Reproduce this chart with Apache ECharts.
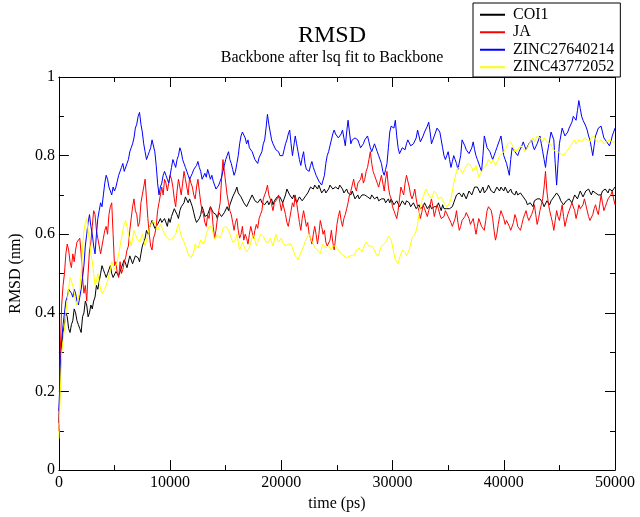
<!DOCTYPE html>
<html><head><meta charset="utf-8">
<script src="https://cdn.jsdelivr.net/npm/echarts/dist/echarts.min.js"></script>
<style>html,body{margin:0;padding:0;background:#fff}#c{width:640px;height:517px}</style>
</head><body><div id="c"></div>
<script>
const timeStart = 0;
const timeStep = 125;

const seriesNames = ['COI1', 'JA', 'ZINC27640214', 'ZINC43772052'];
const seriesColors = ['#000000', '#ff0000', '#0000ff', '#ffff00'];

const rmsdCOI1 = [
0.12,0.24,0.31,0.35,0.37,0.40,0.39,0.36,0.35,0.37,0.38,0.41,0.40,0.38,0.37,0.36,0.35,0.39,0.40,0.43,0.42,0.39,0.40,0.42,0.41,0.43,0.44,0.47,0.46,0.48,0.50,0.52,0.51,0.50,0.49,0.50,0.51,0.52,0.50,0.49,
0.49,0.505,0.51,0.495,0.50,0.515,0.52,0.535,0.53,0.515,0.52,0.545,0.54,0.525,0.53,0.545,0.55,0.54,0.53,0.55,0.57,0.58,0.59,0.61,0.60,0.615,0.62,0.635,0.63,0.615,0.61,0.625,0.62,0.64,0.63,0.625,0.64,0.635,0.62,0.64,
0.63,0.645,0.65,0.665,0.66,0.65,0.64,0.66,0.67,0.675,0.68,0.695,0.69,0.68,0.69,0.685,0.67,0.655,0.64,0.63,0.625,0.64,0.65,0.67,0.66,0.645,0.64,0.65,0.655,0.67,0.665,0.655,0.66,0.65,0.64,0.655,0.66,0.645,0.65,0.655,
0.66,0.67,0.66,0.675,0.68,0.695,0.70,0.71,0.72,0.705,0.70,0.695,0.69,0.68,0.68,0.67,0.675,0.685,0.69,0.70,0.70,0.685,0.69,0.68,0.685,0.69,0.68,0.685,0.675,0.68,0.685,0.675,0.68,0.69,0.675,0.685,0.685,0.695,0.69,0.695,
0.70,0.68,0.69,0.70,0.715,0.71,0.70,0.695,0.69,0.70,0.695,0.68,0.685,0.695,0.69,0.685,0.69,0.695,0.70,0.705,0.71,0.72,0.72,0.715,0.725,0.72,0.715,0.725,0.72,0.705,0.71,0.715,0.705,0.71,0.715,0.725,0.72,0.715,0.71,0.72,
0.72,0.715,0.725,0.72,0.715,0.705,0.71,0.715,0.705,0.70,0.70,0.71,0.70,0.69,0.695,0.70,0.69,0.685,0.70,0.695,0.70,0.705,0.695,0.69,0.69,0.70,0.695,0.69,0.685,0.695,0.685,0.68,0.69,0.695,0.69,0.68,0.685,0.69,0.68,0.69,
0.685,0.675,0.68,0.685,0.68,0.67,0.675,0.685,0.68,0.675,0.685,0.69,0.68,0.67,0.675,0.68,0.675,0.665,0.67,0.675,0.665,0.66,0.67,0.68,0.675,0.665,0.67,0.675,0.665,0.67,0.67,0.665,0.67,0.68,0.67,0.66,0.675,0.665,0.67,0.665,
0.67,0.665,0.66,0.67,0.68,0.69,0.70,0.695,0.705,0.70,0.695,0.705,0.70,0.69,0.70,0.71,0.705,0.70,0.71,0.72,0.725,0.72,0.715,0.705,0.71,0.72,0.705,0.71,0.715,0.725,0.72,0.71,0.715,0.705,0.71,0.72,0.715,0.71,0.72,0.715,
0.71,0.72,0.715,0.705,0.71,0.715,0.705,0.70,0.70,0.71,0.70,0.695,0.705,0.70,0.695,0.69,0.685,0.675,0.67,0.68,0.675,0.67,0.685,0.68,0.69,0.695,0.69,0.685,0.68,0.67,0.675,0.685,0.68,0.675,0.685,0.69,0.695,0.70,0.705,0.70,
0.695,0.685,0.69,0.675,0.68,0.685,0.68,0.69,0.685,0.68,0.69,0.70,0.695,0.69,0.70,0.71,0.705,0.695,0.70,0.71,0.705,0.715,0.71,0.70,0.71,0.715,0.705,0.71,0.70,0.695,0.70,0.71,0.705,0.715,0.71,0.705,0.715,0.72,0.71,0.715,
0.72];

const rmsdJA = [
0.10,0.30,0.42,0.47,0.50,0.55,0.575,0.56,0.53,0.515,0.55,0.53,0.56,0.58,0.575,0.59,0.55,0.49,0.45,0.47,0.43,0.50,0.56,0.58,0.62,0.66,0.65,0.61,0.59,0.57,0.55,0.57,0.59,0.61,0.62,0.60,0.65,0.67,0.68,0.60,
0.52,0.53,0.50,0.49,0.53,0.50,0.51,0.53,0.54,0.56,0.57,0.61,0.64,0.67,0.69,0.66,0.65,0.62,0.63,0.68,0.70,0.72,0.74,0.69,0.64,0.60,0.57,0.56,0.59,0.60,0.62,0.66,0.68,0.70,0.72,0.70,0.74,0.73,0.71,0.73,
0.75,0.74,0.72,0.69,0.67,0.71,0.74,0.72,0.70,0.73,0.76,0.74,0.72,0.70,0.745,0.73,0.72,0.70,0.69,0.72,0.74,0.71,0.68,0.66,0.65,0.63,0.62,0.65,0.64,0.67,0.66,0.62,0.59,0.61,0.64,0.66,0.68,0.74,0.79,0.76,
0.73,0.70,0.68,0.66,0.65,0.63,0.61,0.63,0.64,0.61,0.59,0.60,0.62,0.585,0.60,0.59,0.575,0.60,0.62,0.605,0.59,0.61,0.625,0.615,0.64,0.65,0.66,0.69,0.70,0.71,0.725,0.70,0.69,0.675,0.66,0.68,0.675,0.69,0.70,0.68,
0.66,0.68,0.675,0.65,0.63,0.62,0.64,0.66,0.68,0.67,0.70,0.68,0.655,0.63,0.61,0.64,0.66,0.64,0.62,0.63,0.60,0.59,0.575,0.60,0.62,0.60,0.575,0.60,0.635,0.62,0.60,0.61,0.58,0.57,0.565,0.585,0.61,0.58,0.56,0.59,
0.625,0.645,0.66,0.635,0.62,0.64,0.65,0.665,0.68,0.70,0.71,0.725,0.74,0.72,0.71,0.73,0.725,0.74,0.755,0.73,0.74,0.76,0.77,0.79,0.81,0.78,0.76,0.75,0.74,0.73,0.72,0.735,0.75,0.73,0.71,0.74,0.76,0.72,0.70,0.69,
0.67,0.66,0.65,0.64,0.66,0.69,0.72,0.71,0.70,0.73,0.75,0.735,0.72,0.70,0.69,0.70,0.715,0.69,0.67,0.66,0.64,0.655,0.675,0.665,0.66,0.645,0.66,0.675,0.69,0.67,0.645,0.66,0.675,0.665,0.65,0.64,0.635,0.645,0.66,0.655,
0.645,0.64,0.63,0.62,0.615,0.64,0.66,0.63,0.61,0.62,0.635,0.63,0.645,0.655,0.66,0.64,0.625,0.63,0.64,0.62,0.60,0.62,0.64,0.635,0.62,0.615,0.61,0.635,0.66,0.67,0.675,0.66,0.64,0.61,0.585,0.60,0.625,0.645,0.66,0.65,
0.64,0.625,0.635,0.63,0.62,0.61,0.605,0.63,0.65,0.64,0.62,0.615,0.61,0.625,0.64,0.65,0.66,0.645,0.635,0.64,0.65,0.66,0.675,0.65,0.625,0.64,0.66,0.675,0.69,0.72,0.76,0.71,0.68,0.66,0.645,0.63,0.61,0.635,0.66,0.645,
0.635,0.655,0.675,0.645,0.62,0.635,0.65,0.66,0.67,0.68,0.685,0.66,0.64,0.655,0.675,0.665,0.66,0.675,0.69,0.675,0.66,0.645,0.635,0.64,0.65,0.665,0.675,0.66,0.65,0.675,0.70,0.68,0.66,0.67,0.68,0.69,0.695,0.70,0.71,0.69,
0.675];

const rmsdZINC27640214 = [
0.15,0.26,0.33,0.37,0.40,0.43,0.44,0.46,0.46,0.45,0.44,0.46,0.45,0.43,0.42,0.44,0.46,0.49,0.52,0.57,0.60,0.63,0.65,0.62,0.60,0.57,0.55,0.60,0.64,0.66,0.68,0.67,0.70,0.73,0.75,0.74,0.72,0.71,0.70,0.72,
0.71,0.72,0.735,0.75,0.76,0.77,0.78,0.76,0.765,0.78,0.79,0.81,0.82,0.83,0.845,0.87,0.88,0.90,0.91,0.88,0.86,0.83,0.81,0.79,0.80,0.81,0.82,0.84,0.84,0.81,0.775,0.73,0.70,0.72,0.73,0.75,0.76,0.75,0.74,0.73,
0.75,0.77,0.79,0.78,0.77,0.79,0.80,0.82,0.81,0.79,0.78,0.77,0.76,0.75,0.74,0.745,0.755,0.765,0.77,0.775,0.785,0.77,0.76,0.74,0.735,0.755,0.745,0.765,0.76,0.74,0.75,0.735,0.725,0.715,0.71,0.725,0.735,0.745,0.76,0.775,
0.79,0.80,0.81,0.79,0.78,0.765,0.75,0.76,0.78,0.80,0.83,0.85,0.86,0.855,0.845,0.83,0.84,0.82,0.825,0.81,0.805,0.79,0.785,0.78,0.795,0.80,0.81,0.83,0.84,0.87,0.905,0.88,0.86,0.84,0.83,0.825,0.815,0.82,0.81,0.80,
0.795,0.80,0.815,0.83,0.84,0.855,0.865,0.83,0.80,0.825,0.85,0.83,0.81,0.79,0.775,0.795,0.81,0.78,0.765,0.77,0.76,0.775,0.785,0.77,0.76,0.75,0.745,0.735,0.73,0.725,0.72,0.75,0.78,0.80,0.81,0.825,0.84,0.855,0.865,0.855,
0.85,0.845,0.84,0.855,0.865,0.845,0.825,0.86,0.89,0.86,0.83,0.84,0.835,0.845,0.85,0.84,0.83,0.82,0.815,0.83,0.84,0.845,0.85,0.835,0.82,0.81,0.815,0.83,0.825,0.81,0.80,0.79,0.78,0.76,0.75,0.765,0.78,0.82,0.86,0.875,
0.88,0.87,0.89,0.85,0.82,0.805,0.81,0.82,0.825,0.815,0.83,0.84,0.835,0.825,0.82,0.83,0.825,0.845,0.865,0.85,0.835,0.84,0.85,0.86,0.865,0.875,0.885,0.86,0.83,0.84,0.85,0.86,0.87,0.865,0.86,0.84,0.82,0.80,0.79,0.80,
0.81,0.79,0.77,0.785,0.80,0.79,0.78,0.765,0.77,0.80,0.84,0.835,0.825,0.815,0.81,0.805,0.80,0.82,0.835,0.815,0.80,0.79,0.785,0.77,0.76,0.80,0.85,0.835,0.82,0.815,0.81,0.80,0.79,0.80,0.81,0.82,0.825,0.84,0.85,0.825,
0.80,0.79,0.78,0.765,0.75,0.79,0.82,0.815,0.81,0.805,0.80,0.81,0.815,0.825,0.835,0.825,0.815,0.82,0.83,0.835,0.84,0.825,0.815,0.82,0.83,0.84,0.85,0.83,0.81,0.79,0.77,0.80,0.82,0.84,0.86,0.85,0.84,0.78,0.725,0.78,
0.83,0.85,0.87,0.86,0.85,0.855,0.86,0.87,0.875,0.885,0.90,0.895,0.89,0.915,0.94,0.92,0.90,0.89,0.885,0.875,0.865,0.85,0.84,0.82,0.80,0.825,0.85,0.86,0.87,0.865,0.875,0.86,0.845,0.84,0.835,0.83,0.825,0.835,0.85,0.86,
0.87];

const rmsdZINC43772052 = [
0.08,0.20,0.30,0.33,0.36,0.40,0.43,0.46,0.49,0.48,0.47,0.45,0.43,0.42,0.42,0.46,0.50,0.56,0.61,0.63,0.64,0.61,0.58,0.55,0.53,0.50,0.47,0.48,0.50,0.48,0.46,0.45,0.45,0.46,0.47,0.48,0.485,0.51,0.53,0.52,
0.51,0.52,0.53,0.55,0.57,0.59,0.61,0.625,0.635,0.62,0.60,0.585,0.57,0.59,0.61,0.60,0.59,0.585,0.58,0.59,0.60,0.585,0.57,0.585,0.60,0.615,0.625,0.63,0.635,0.63,0.62,0.61,0.615,0.625,0.62,0.61,0.60,0.595,0.59,0.59,
0.585,0.58,0.59,0.595,0.60,0.615,0.625,0.61,0.595,0.59,0.58,0.57,0.56,0.55,0.545,0.54,0.54,0.555,0.575,0.57,0.565,0.575,0.585,0.58,0.575,0.585,0.60,0.61,0.62,0.625,0.62,0.60,0.585,0.59,0.60,0.595,0.59,0.60,0.615,0.62,
0.62,0.615,0.61,0.60,0.59,0.58,0.575,0.585,0.60,0.58,0.56,0.57,0.58,0.57,0.565,0.555,0.55,0.565,0.58,0.59,0.60,0.585,0.57,0.58,0.59,0.60,0.605,0.595,0.59,0.58,0.575,0.58,0.59,0.58,0.57,0.585,0.60,0.59,0.58,0.585,
0.59,0.58,0.575,0.57,0.565,0.575,0.58,0.575,0.57,0.555,0.545,0.54,0.535,0.545,0.55,0.56,0.565,0.58,0.59,0.595,0.60,0.59,0.585,0.575,0.565,0.56,0.56,0.555,0.55,0.565,0.575,0.57,0.565,0.57,0.57,0.565,0.56,0.57,0.575,0.57,
0.565,0.56,0.555,0.55,0.55,0.545,0.545,0.54,0.535,0.545,0.55,0.545,0.54,0.55,0.56,0.565,0.565,0.56,0.555,0.565,0.57,0.58,0.575,0.57,0.565,0.57,0.57,0.56,0.55,0.545,0.545,0.56,0.57,0.575,0.575,0.58,0.585,0.595,0.60,0.585,
0.57,0.55,0.535,0.53,0.525,0.54,0.55,0.56,0.565,0.555,0.545,0.55,0.56,0.575,0.59,0.595,0.60,0.61,0.625,0.65,0.67,0.685,0.695,0.705,0.715,0.71,0.70,0.695,0.69,0.70,0.71,0.705,0.70,0.69,0.685,0.695,0.69,0.68,0.675,0.67,
0.67,0.68,0.69,0.71,0.73,0.745,0.76,0.77,0.775,0.765,0.755,0.76,0.765,0.775,0.77,0.78,0.785,0.77,0.76,0.765,0.775,0.76,0.745,0.75,0.76,0.765,0.77,0.775,0.78,0.79,0.785,0.78,0.79,0.785,0.775,0.78,0.79,0.80,0.80,0.805,
0.81,0.815,0.82,0.83,0.825,0.835,0.83,0.82,0.81,0.81,0.815,0.82,0.825,0.83,0.82,0.81,0.815,0.82,0.825,0.835,0.84,0.845,0.835,0.84,0.85,0.855,0.845,0.84,0.835,0.845,0.84,0.835,0.83,0.83,0.825,0.82,0.815,0.81,0.815,0.81,
0.81,0.805,0.80,0.80,0.805,0.81,0.815,0.82,0.825,0.83,0.835,0.84,0.83,0.835,0.84,0.845,0.835,0.84,0.845,0.85,0.84,0.835,0.835,0.845,0.845,0.85,0.84,0.835,0.835,0.84,0.84,0.845,0.83,0.825,0.835,0.84,0.84,0.845,0.835,0.83,
0.835];

const yTickLabels = ['0', '0.2', '0.4', '0.6', '0.8', '1'];

const FONT = '"Liberation Serif", "DejaVu Serif", serif';
const allSeries = [rmsdCOI1, rmsdJA, rmsdZINC27640214, rmsdZINC43772052];

function toPairs(values) {
  return values.map((v, i) => [timeStart + i * timeStep, v]);
}

const chart = echarts.init(document.getElementById('c'), null, {renderer: 'canvas'});

const axisCommon = {
  axisLine: {show: true, onZero: false, lineStyle: {color: '#000', width: 1}},
  axisTick: {show: true, inside: true, length: 10, lineStyle: {color: '#000', width: 1}},
  minorTick: {show: true, splitNumber: 2, length: 5, lineStyle: {color: '#000', width: 1}},
  splitLine: {show: false},
  minorSplitLine: {show: false}
};

const option = {
  animation: false,
  backgroundColor: '#ffffff',
  title: [
    {text: 'RMSD', left: 332, top: 24, padding: 0, textAlign: 'center',
     textStyle: {fontFamily: FONT, fontSize: 24, fontWeight: 'normal', color: '#000'}},
    {text: 'Backbone after lsq fit to Backbone', left: 332, top: 50, padding: 0, textAlign: 'center',
     textStyle: {fontFamily: FONT, fontSize: 16, fontWeight: 'normal', color: '#000'}}
  ],
  legend: {
    orient: 'vertical', left: 473, top: 3,
    backgroundColor: '#fff', borderColor: '#000', borderWidth: 1,
    padding: [3, 6, 1, 7],
    itemWidth: 25, itemHeight: 2, itemGap: 0, icon: 'rect',
    textStyle: {fontFamily: FONT, fontSize: 16, lineHeight: 17.5, color: '#000', padding: [0, 0, 0, 3]},
    data: seriesNames.map((n, k) => ({name: n, itemStyle: {color: seriesColors[k]}}))
  },
  grid: {left: 47, right: 25, top: 77, bottom: 41, containLabel: false},
  xAxis: [
    Object.assign({
      type: 'value', min: 0, max: 50000, interval: 10000, position: 'bottom',
      name: 'time (ps)', nameLocation: 'middle', nameGap: 22,
      nameTextStyle: {fontFamily: FONT, fontSize: 16, color: '#000'},
      axisLabel: {fontFamily: FONT, fontSize: 16, color: '#000', margin: 5,
        formatter: v => String(v)}
    }, axisCommon),
    Object.assign({
      type: 'value', min: 0, max: 50000, interval: 10000, position: 'top',
      axisLabel: {show: false}
    }, axisCommon)
  ],
  yAxis: [
    Object.assign({
      type: 'value', min: 0, max: 1, interval: 0.2, position: 'left',
      name: 'RMSD (nm)', nameLocation: 'middle', nameGap: 28, nameRotate: 90,
      nameTextStyle: {fontFamily: FONT, fontSize: 16, color: '#000'},
      axisLabel: {fontFamily: FONT, fontSize: 16, color: '#000', margin: 4,
        formatter: v => yTickLabels[Math.round(v / 0.2)] ?? String(v)}
    }, axisCommon),
    Object.assign({
      type: 'value', min: 0, max: 1, interval: 0.2, position: 'right',
      axisLabel: {show: false}
    }, axisCommon)
  ],
  series: allSeries.map((vals, k) => ({
    name: seriesNames[k], type: 'line', xAxisIndex: 0, yAxisIndex: 0,
    data: toPairs(vals), symbol: 'none', showSymbol: false,
    lineStyle: {color: seriesColors[k], width: 1}, itemStyle: {color: seriesColors[k]},
    z: 2 + k
  }))
};
chart.setOption(option);
</script>
</body></html>
